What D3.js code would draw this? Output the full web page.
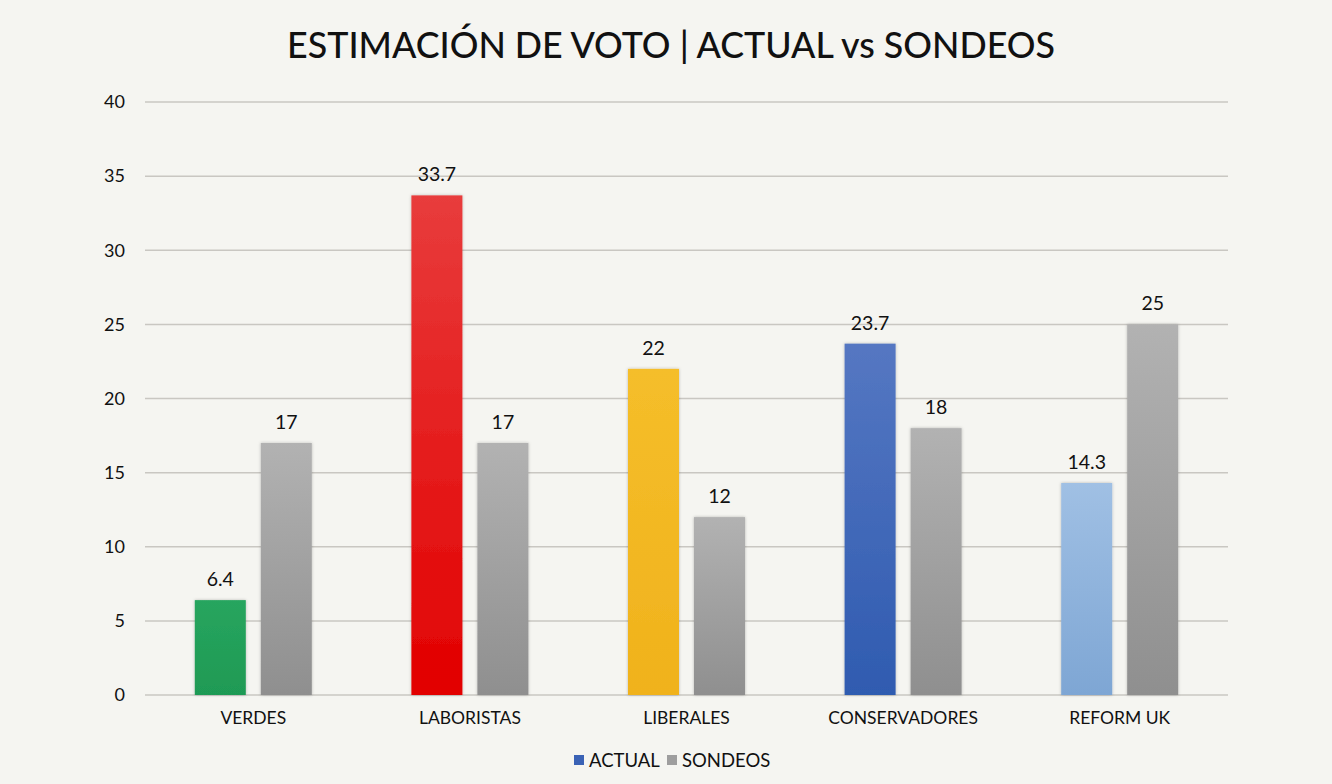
<!DOCTYPE html>
<html>
<head>
<meta charset="utf-8">
<script src="https://cdn.jsdelivr.net/npm/d3@7"></script>
<style>
  body { margin: 0; background: #f5f5f1; }
  svg { display: block; }
  text { font-family: "Lato", "Open Sans", sans-serif; fill: #111; }
</style>
</head>
<body>
<div id="chart"></div>
<script>
// data
const parties = ["VERDES", "LABORISTAS", "LIBERALES", "CONSERVADORES", "REFORM UK"];
const actual = [6.4, 33.7, 22, 23.7, 14.3];
const sondeos = [17, 17, 12, 18, 25];
const yTicks = [0, 5, 10, 15, 20, 25, 30, 35, 40];
const seriesNames = ["ACTUAL", "SONDEOS"];

// colours for the ACTUAL bars, top -> bottom
const partyColors = [
  ["#27a55e", "#1f9a55"],
  ["#e83c3c", "#e20000"],
  ["#f5be2a", "#f0b21c"],
  ["#5577c2", "#2f5bb0"],
  ["#a0c0e4", "#7ea6d4"]
];
const greyColors = ["#b2b2b2", "#8f8f8f"];

const width = 1332;
const height = 784;
const margin = {top: 102, right: 104, bottom: 89, left: 145};

const svg = d3.select("#chart").append("svg")
  .attr("width", width)
  .attr("height", height)
  .style("background-color", "#f5f5f1");

const defs = svg.append("defs");

function addGrad(id, cols) {
  const g = defs.append("linearGradient")
    .attr("id", id)
    .attr("x1", 0).attr("y1", 0).attr("x2", 0).attr("y2", 1);
  g.append("stop").attr("offset", "0%").attr("stop-color", cols[0]);
  g.append("stop").attr("offset", "100%").attr("stop-color", cols[1]);
}
partyColors.forEach((c, i) => addGrad("g" + i, c));
addGrad("grey", greyColors);

const shadow = defs.append("filter").attr("id", "shadow")
  .attr("x", "-20%").attr("y", "-5%").attr("width", "140%").attr("height", "110%");
shadow.append("feDropShadow")
  .attr("dx", 0).attr("dy", 0).attr("stdDeviation", 1.5)
  .attr("flood-color", "#000").attr("flood-opacity", 0.25);

// scales
const x = d3.scaleBand()
  .domain(parties)
  .range([margin.left, width - margin.right]);

const y = d3.scaleLinear()
  .domain([0, 40])
  .range([height - margin.bottom, margin.top]);

const barW = 51;
const gap = 15;

// title
svg.append("text")
  .attr("x", 671)
  .attr("y", 58)
  .attr("text-anchor", "middle")
  .attr("font-size", 35.8)
  .attr("font-weight", 500)
  .text("ESTIMACIÓN DE VOTO | ACTUAL vs SONDEOS");

// gridlines
svg.append("g")
  .selectAll("line")
  .data(yTicks)
  .enter()
  .append("line")
  .attr("x1", margin.left)
  .attr("x2", width - margin.right)
  .attr("y1", d => y(d))
  .attr("y2", d => y(d))
  .attr("stroke", "#c9c7c2")
  .attr("stroke-width", 1.5);

// y axis labels
const yAxis = svg.append("g")
  .attr("transform", `translate(${margin.left - 20},0)`)
  .call(d3.axisLeft(y).tickValues(yTicks).tickSize(0).tickPadding(0));
yAxis.select(".domain").remove();
yAxis.selectAll("text")
  .attr("font-size", 18)
  .attr("font-family", "Lato, 'Open Sans', sans-serif")
  .attr("fill", "#111");

// x axis labels
const xAxis = svg.append("g")
  .attr("transform", `translate(0,${height - margin.bottom + 17})`)
  .call(d3.axisBottom(x).tickSize(0).tickPadding(0));
xAxis.select(".domain").remove();
xAxis.selectAll("text")
  .attr("font-size", 17.5)
  .attr("font-family", "Lato, 'Open Sans', sans-serif")
  .attr("fill", "#111");

// bars
const groups = svg.append("g")
  .selectAll("g")
  .data(parties)
  .enter()
  .append("g");

groups.append("rect")
  .attr("x", d => x(d) + x.bandwidth() / 2 - gap / 2 - barW)
  .attr("y", (d, i) => y(actual[i]))
  .attr("width", barW)
  .attr("height", (d, i) => y(0) - y(actual[i]))
  .attr("fill", (d, i) => `url(#g${i})`)
  .attr("filter", "url(#shadow)");

groups.append("rect")
  .attr("x", d => x(d) + x.bandwidth() / 2 + gap / 2)
  .attr("y", (d, i) => y(sondeos[i]))
  .attr("width", barW)
  .attr("height", (d, i) => y(0) - y(sondeos[i]))
  .attr("fill", "url(#grey)")
  .attr("filter", "url(#shadow)");

// value labels
groups.append("text")
  .attr("x", d => x(d) + x.bandwidth() / 2 - gap / 2 - barW / 2)
  .attr("y", (d, i) => y(actual[i]) - 14)
  .attr("text-anchor", "middle")
  .attr("font-size", 19.5)
  .text((d, i) => actual[i]);

groups.append("text")
  .attr("x", d => x(d) + x.bandwidth() / 2 + gap / 2 + barW / 2)
  .attr("y", (d, i) => y(sondeos[i]) - 14)
  .attr("text-anchor", "middle")
  .attr("font-size", 19.5)
  .text((d, i) => sondeos[i]);

// legend
const legend = svg.append("g").attr("transform", "translate(574,761)");
const legendCols = ["#3a62b5", "#9e9e9e"];
const legendX = [0, 93];
seriesNames.forEach((name, i) => {
  legend.append("rect")
    .attr("x", legendX[i])
    .attr("y", -6)
    .attr("width", 10)
    .attr("height", 10)
    .attr("fill", legendCols[i]);
  legend.append("text")
    .attr("x", legendX[i] + 15)
    .attr("y", 6)
    .attr("font-size", 18.5)
    .text(name);
});
</script>
</body>
</html>
